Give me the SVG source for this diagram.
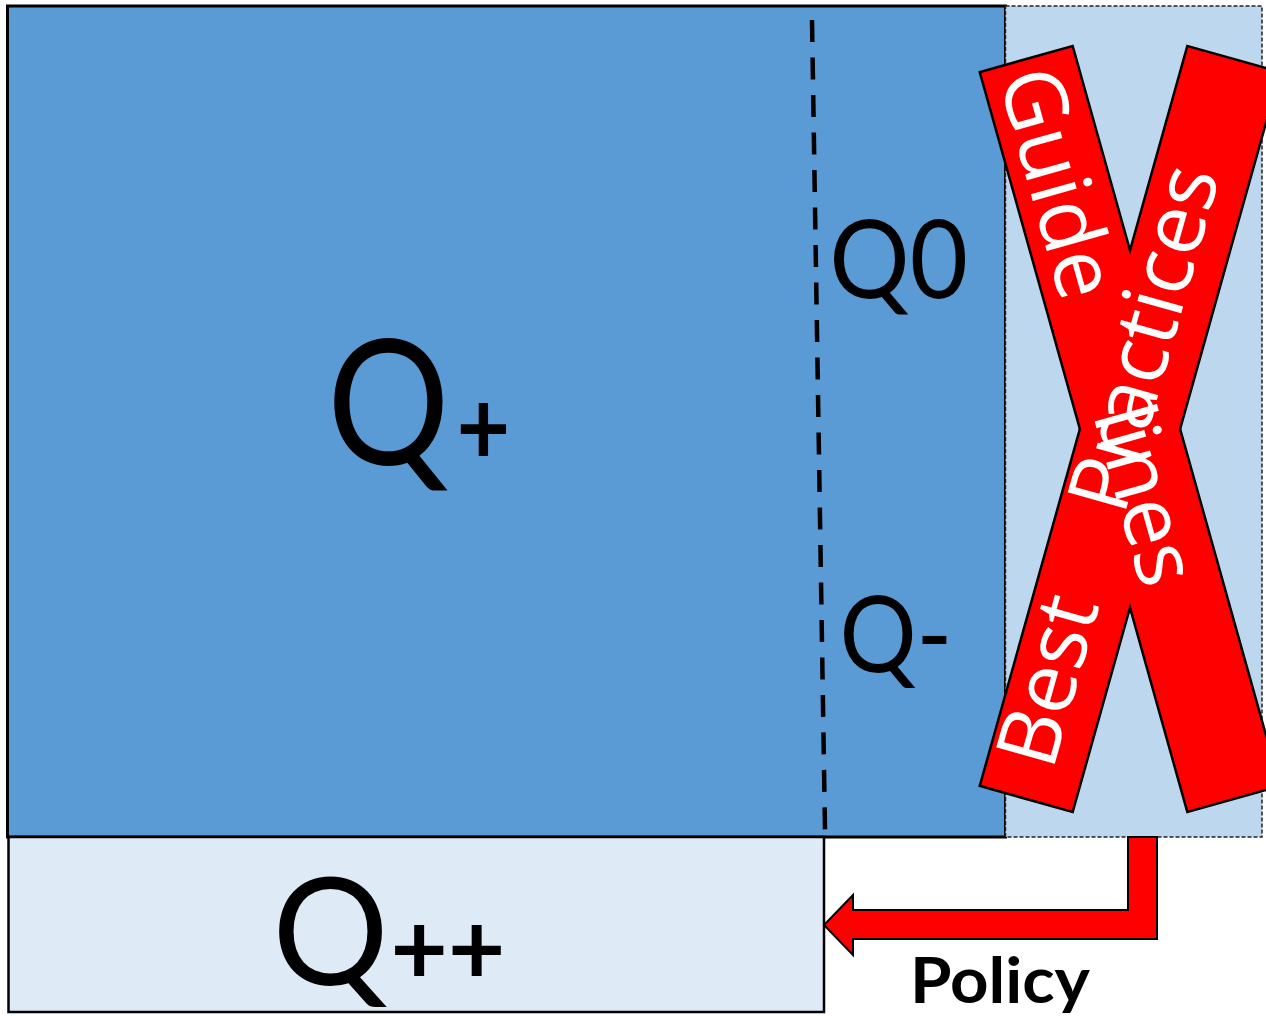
<svg xmlns="http://www.w3.org/2000/svg" width="1266" height="1016" viewBox="0 0 1266 1016">
<style>
.q{font-family:Lato,"Liberation Sans",sans-serif;fill:#000}
.pl{font-weight:bold}
.bs{fill:none;stroke:#000;stroke-width:5}
.bf{fill:#FF0000}
.bt{font-family:"Open Sans","DejaVu Sans",sans-serif;font-size:85px;fill:#fff}
</style>
<defs>
<rect id="bandshape" x="-383" y="-47" width="766" height="94"/>
</defs>
<rect width="1266" height="1016" fill="#fff"/>
<g id="q-plus-area">
<rect x="7.5" y="6" width="998" height="831" fill="#5B9BD5" stroke="#000" stroke-width="3"/>
<text class="q" transform="translate(333,465) scale(0.875,1)" x="-7" y="0" font-size="175">Q<tspan class="pl" font-size="106" dx="8">+</tspan></text>
</g>
<g id="excluded-area">
<rect x="1005.5" y="6" width="256.5" height="831" fill="#BDD7EE" stroke="#222" stroke-width="1.5" stroke-dasharray="4 2"/>
</g>
<g id="q-plus-plus">
<rect x="8.5" y="837" width="815.5" height="175" fill="#DEEBF7" stroke="#000" stroke-width="2.5"/>
<text class="q" transform="translate(277,985) scale(0.97,1)" x="-5" y="0" font-size="150">Q<tspan class="pl" font-size="102" dx="2">++</tspan></text>
</g>
<g id="q0">
<text class="q" transform="translate(833,298) scale(0.93,1)" x="-4" y="0" font-size="108">Q0</text>
</g>
<g id="q-minus">
<text class="q" transform="translate(843,672) scale(0.9,1)" x="-4" y="0" font-size="107">Q-</text>
</g>
<g id="crossed-out">
<use href="#bandshape" class="bs" transform="translate(1130,429) rotate(74.33)"/>
<use href="#bandshape" class="bs" transform="translate(1130,429) rotate(-74.33)"/>
<use href="#bandshape" class="bf" transform="translate(1130,429) rotate(74.33)"/>
<use href="#bandshape" class="bf" transform="translate(1130,429) rotate(-74.33)"/>
<g id="guidelines" transform="translate(1130,429) rotate(74.33)">
<text class="bt" y="32"><tspan x="-374">Guide</tspan><tspan x="-24">lines</tspan></text>
</g>
<g id="best-practices" transform="translate(1130,429) rotate(-74.33)">
<text class="bt" y="18"><tspan x="-351">Best </tspan><tspan x="-86">Practices</tspan></text>
</g>
</g>
<g id="policy-label">
<text class="q" x="910" y="1003" font-size="64" font-weight="bold" textLength="180" lengthAdjust="spacingAndGlyphs">Policy</text>
</g>
<g id="connectors">
<line x1="812" y1="20" x2="825" y2="830" stroke="#000" stroke-width="4.5" stroke-dasharray="22 15.5"/>
<polygon points="1128,837 1157,837 1157,939 853,939 853,955 824,925 853,895 853,910 1128,910" fill="#FF0000" stroke="#000" stroke-width="2"/>
</g>
</svg>
